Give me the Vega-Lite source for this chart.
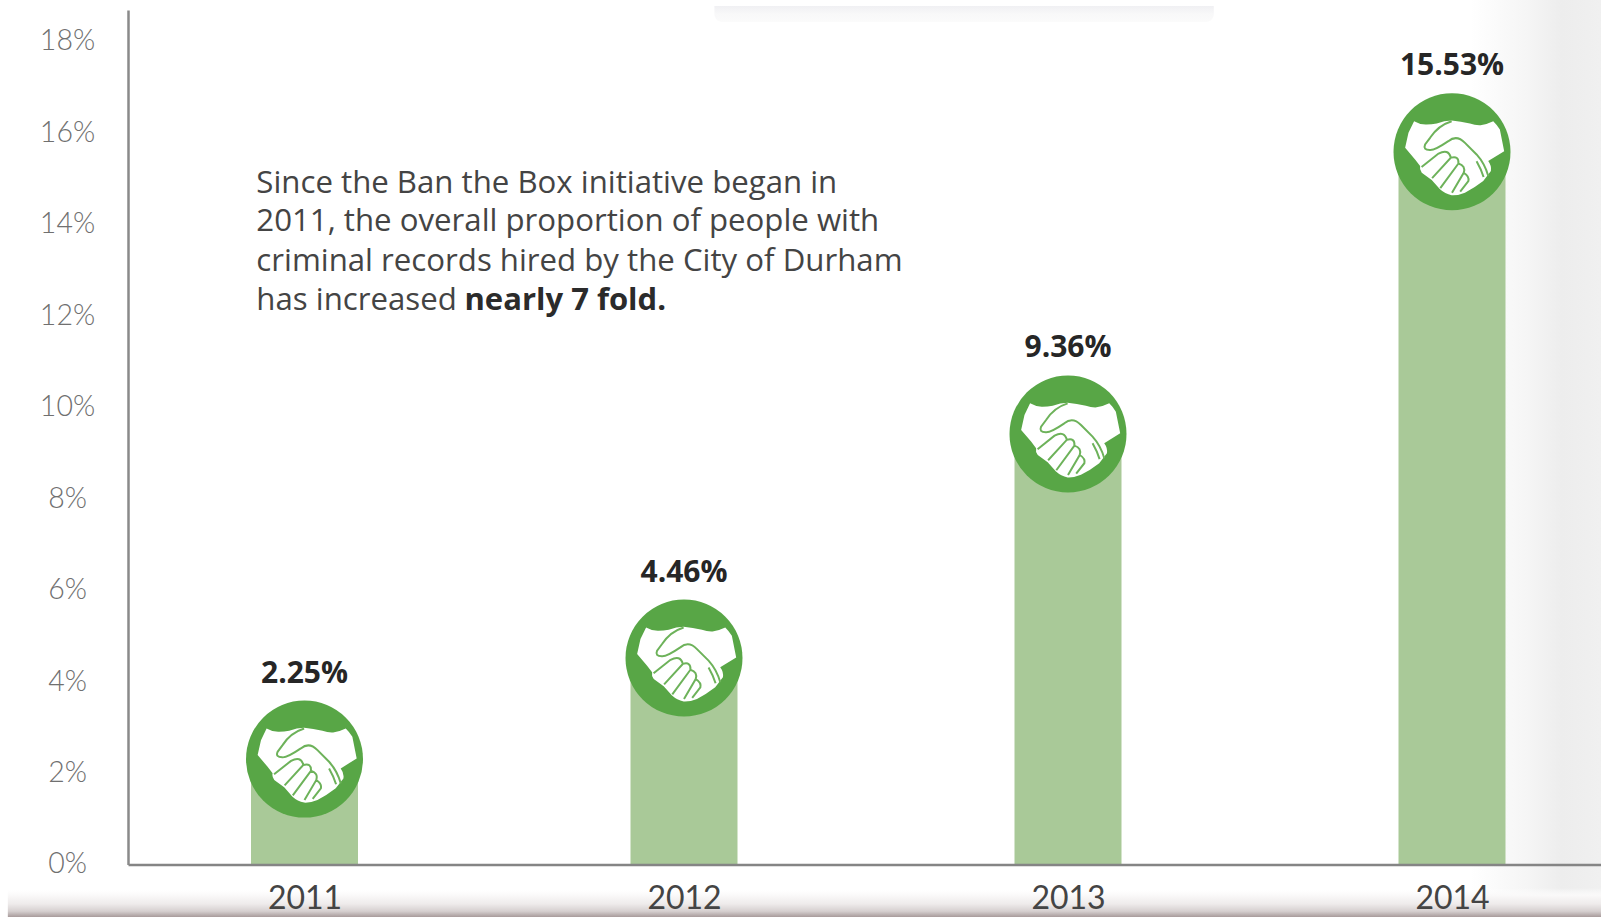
{
  "$schema": "https://vega.github.io/schema/vega-lite/v6.json",
  "width": 1473,
  "height": 854.5,
  "autosize": {"type": "none"},
  "padding": {"left": 128, "top": 10, "right": 0, "bottom": 52.5},
  "background": "#ffffff",
  "config": {"view": {"stroke": null}},
  "datasets": {
    "hires": [
      {"year": 2011, "rate": 2.25, "label": "2.25%"},
      {"year": 2012, "rate": 4.46, "label": "4.46%"},
      {"year": 2013, "rate": 9.36, "label": "9.36%"},
      {"year": 2014, "rate": 15.53, "label": "15.53%"}
    ],
    "note": [
      {"year": 2010.8755, "rate": 14.83, "line": "Since the Ban the Box initiative began in"},
      {"year": 2010.8755, "rate": 13.99, "line": "2011, the overall proportion of people with"},
      {"year": 2010.8755, "rate": 13.12, "line": "criminal records hired by the City of Durham"},
      {"year": 2010.8755, "rate": 12.27, "line": "has increased"}
    ],
    "noteEmphasis": [
      {"year": 2011.4216, "rate": 12.27, "line": "nearly 7 fold."}
    ]
  },
  "encoding": {
    "x": {
      "field": "year",
      "type": "quantitative",
      "scale": {
        "domain": [2010.5435, 2011, 2012, 2013, 2014, 2014.3905],
        "range": [0, 176.5, 556, 940, 1324, 1473],
        "nice": false,
        "zero": false,
        "padding": 0
      },
      "axis": {
        "title": null,
        "values": [2011, 2012, 2013, 2014],
        "format": "d",
        "grid": false,
        "ticks": false,
        "domainColor": "#858585",
        "domainWidth": 2.5,
        "labelFont": "Lato",
        "labelFontSize": 32,
        "labelColor": "#444444",
        "labelPadding": 19,
        "labelBaseline": "top",
        "zindex": 1
      }
    },
    "y": {
      "field": "rate",
      "type": "quantitative",
      "scale": {"domain": [-0.055, 18.631], "nice": false, "zero": false},
      "axis": {
        "title": null,
        "values": [0, 2, 4, 6, 8, 10, 12, 14, 16, 18],
        "labelExpr": "datum.value + '%'",
        "grid": false,
        "ticks": false,
        "domainColor": "#8a8a8a",
        "domainWidth": 2.5,
        "labelFont": "Lato",
        "labelFontWeight": 300,
        "labelFontSize": 28.5,
        "labelColor": "#707070",
        "labelAlign": "center",
        "labelPadding": 61,
        "labelBaseline": "middle",
        "labelOffset": 2,
        "zindex": 1
      }
    }
  },
  "layer": [
    {
      "description": "Pale shading down the right edge of the page",
      "data": {"values": [{"year": 2014.0483, "yearEnd": 2014.3905, "rate": 18.85, "rateEnd": -1.203}]},
      "mark": {
        "type": "rect",
        "fill": {
          "gradient": "linear", "x1": 0, "y1": 0, "x2": 1, "y2": 0,
          "stops": [
            {"offset": 0, "color": "#ffffff"},
            {"offset": 0.45, "color": "#f5f5f5"},
            {"offset": 0.7, "color": "#ededed"},
            {"offset": 1, "color": "#f0f0f0"}
          ]
        }
      },
      "encoding": {"x2": {"field": "yearEnd"}, "y2": {"field": "rateEnd"}}
    },
    {
      "description": "Faint rounded tab at the top of the page",
      "data": {"values": [{"year": 2012.0792, "yearEnd": 2013.3797, "rate": 18.72, "rateEnd": 18.37}]},
      "mark": {
        "type": "rect",
        "cornerRadiusBottomLeft": 15,
        "cornerRadiusBottomRight": 15,
        "fill": {
          "gradient": "linear", "x1": 0, "y1": 0, "x2": 0, "y2": 1,
          "stops": [
            {"offset": 0, "color": "#f0f0f3"},
            {"offset": 0.5, "color": "#f8f8f9"},
            {"offset": 1, "color": "#fbfbfb"}
          ]
        }
      },
      "encoding": {"x2": {"field": "yearEnd"}, "y2": {"field": "rateEnd"}}
    },
    {
      "description": "Shaded strip along the bottom of the page",
      "data": {"values": [{"year": 2010.2327, "yearEnd": 2014.3905, "rate": -0.569, "rateEnd": -1.203}]},
      "mark": {
        "type": "rect",
        "fill": {
          "gradient": "linear", "x1": 0, "y1": 0, "x2": 0, "y2": 1,
          "stops": [
            {"offset": 0, "color": "rgba(255,255,255,0)"},
            {"offset": 0.25, "color": "rgba(250,249,249,1)"},
            {"offset": 0.55, "color": "#eeebeb"},
            {"offset": 0.8, "color": "#d6d0d0"},
            {"offset": 1, "color": "#a89b9b"}
          ]
        }
      },
      "encoding": {"x2": {"field": "yearEnd"}, "y2": {"field": "rateEnd"}}
    },
    {
      "data": {"name": "hires"},
      "mark": {"type": "bar", "orient": "vertical", "size": 107, "fill": "#a9c998"},
      "encoding": {"y2": {"datum": -0.055}}
    },
    {
      "description": "Green disc centred on each value",
      "data": {"name": "hires"},
      "mark": {"type": "point", "shape": "circle", "filled": true, "fill": "#58a646", "opacity": 1, "size": 13689, "strokeWidth": 0}
    },
    {
      "description": "White silhouette of the clasped hands",
      "data": {"name": "hires"},
      "mark": {
        "type": "point",
        "filled": true,
        "fill": "#ffffff",
        "opacity": 1,
        "strokeWidth": 0,
        "size": 13689,
        "shape": "M-.648,-.523 Q-.54,-.46 -.432,-.466 Q-.35,-.47 -.261,-.483 Q-.13,-.53 -.006,-.534 Q.15,-.52 .307,-.483 Q.4,-.45 .489,-.455 Q.6,-.47 .705,-.523 Q.77,-.46 .818,-.381 L.892,-.011 L.619,.159 Q.68,.24 .665,.33 L.534,.5 Q.38,.62 .222,.699 Q.1,.75 -.006,.744 Q-.12,.72 -.205,.642 L-.347,.483 L-.517,.358 Q-.56,.3 -.545,.244 L-.631,.131 L-.801,-.068 L-.744,-.324 Z"
      }
    },
    {
      "description": "Green linework of the thumb and fingers",
      "data": {"name": "hires"},
      "mark": {
        "type": "point",
        "filled": false,
        "fill": null,
        "stroke": "#6db25a",
        "opacity": 1,
        "strokeWidth": 2,
        "size": 13689,
        "shape": "M-.006,-.523 Q-.24,-.45 -.375,-.239 L-.46,-.125 Q-.5,-.03 -.38,-.03 Q-.3,-.02 -.063,-.182 Q.08,-.3 .222,-.153 L.42,.045 Q.56,.2 .62,.415 M.42,.16 Q.5,.3 .54,.43 M-.52,.26 L-.23,.03 Q-.06,-.06 -.02,.1 L-.34,.45 M-.02,.1 Q.12,.06 .11,.2 L-.2,.62 M.11,.2 Q.24,.24 .2,.36 L0,.7 M.2,.36 Q.3,.42 .28,.5 L.14,.68"
      }
    },
    {
      "data": {"name": "hires"},
      "mark": {"type": "text", "font": "Open Sans", "fontWeight": "bold", "fontSize": 30, "fill": "#262626", "align": "center", "baseline": "middle", "dy": -85.5},
      "encoding": {"text": {"field": "label"}}
    },
    {
      "data": {"name": "note"},
      "mark": {"type": "text", "font": "Open Sans", "fontSize": 31.2, "fill": "#444444", "align": "left", "baseline": "middle"},
      "encoding": {"text": {"field": "line"}}
    },
    {
      "data": {"name": "noteEmphasis"},
      "mark": {"type": "text", "font": "Open Sans", "fontWeight": "bold", "fontSize": 31, "fill": "#2b2b2b", "align": "left", "baseline": "middle"},
      "encoding": {"text": {"field": "line"}}
    }
  ]
}
